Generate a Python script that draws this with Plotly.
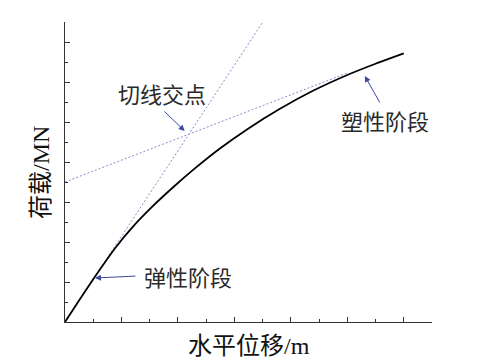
import plotly.graph_objects as go

# Load-displacement curve (units; axes unlabeled)
disp = [0, 0.5, 0.9, 1.2, 1.55, 1.9, 2.3, 2.75, 3.25, 3.8, 4.4, 5.0, 5.55, 6.0]
load = [0, 1.07, 1.87, 2.38, 2.89, 3.35, 3.84, 4.345, 4.84, 5.324, 5.786, 6.176, 6.484, 6.718]

# Elastic tangent line (through origin)
elastic_x = [0, 3.5]
elastic_y = [0, 7.49]
# Plastic tangent line
plastic_x = [0, 5.0]
plastic_y = [3.5, 6.225]

FONT = "Liberation Serif, Noto Sans CJK SC, serif"
ARROW = "#3b4a9c"
DOT = "#8a8ac8"

fig = go.Figure()
fig.add_trace(go.Scatter(x=elastic_x, y=elastic_y, mode="lines",
                         line=dict(color=DOT, width=1, dash="2px,2px"), hoverinfo="skip"))
fig.add_trace(go.Scatter(x=plastic_x, y=plastic_y, mode="lines",
                         line=dict(color=DOT, width=1, dash="2px,2px"), hoverinfo="skip"))
fig.add_trace(go.Scatter(x=disp, y=load, mode="lines", line=dict(color="black", width=1.8, shape="spline"),
                         hoverinfo="skip"))

def arrow(x, y, ax, ay):
    fig.add_annotation(x=x, y=y, ax=ax, ay=ay, xref="x", yref="y", axref="x", ayref="y",
                       showarrow=True, arrowhead=2, arrowsize=1.2, arrowwidth=1, arrowcolor=ARROW, text="")

arrow(2.12, 4.775, 1.735, 5.30)
arrow(0.531, 1.10, 1.274, 1.15)
arrow(5.31, 6.15, 5.59, 5.45)

labels = [("切线交点", 1.72, 5.675), ("弹性阶段", 2.18, 1.10), ("塑性阶段", 5.66, 5.0)]
for t, x, y in labels:
    fig.add_annotation(x=x, y=y, xref="x", yref="y", text=t, showarrow=False,
                       font=dict(family=FONT, size=22, color="#2a2a2a"))

fig.add_annotation(x=0.501, y=-0.08, xref="paper", yref="paper", text="水平位移/m", showarrow=False,
                   xanchor="center", yanchor="middle",
                   font=dict(family=FONT, size=24, color="#111"))
fig.add_annotation(x=-0.0654, y=0.5, xref="paper", yref="paper", text="荷载/MN", showarrow=False,
                   xanchor="center", yanchor="middle",
                   textangle=-90, font=dict(family=FONT, size=24, color="#111"))

axis_common = dict(showgrid=False, zeroline=False, showline=True, linecolor="#333", linewidth=1.3,
                   ticks="inside", ticklen=5, tickwidth=1.3, tickcolor="#333", showticklabels=False,
                   dtick=1, tick0=0)
fig.update_xaxes(range=[0, 6.5], minor=dict(ticks="inside", ticklen=3, dtick=0.5, tick0=0, tickcolor="#333"),
                 **axis_common)
fig.update_yaxes(range=[0, 7.5], minor=dict(ticks="inside", ticklen=3, dtick=0.5, tick0=0, tickcolor="#333"),
                 **axis_common)

fig.update_layout(width=490, height=361, margin=dict(l=65, r=58, t=22, b=39),
                  plot_bgcolor="white", paper_bgcolor="white", showlegend=False)

fig.write_html("out.html", config={"displayModeBar": False})

# remove default page margin so the figure sits at the window origin
with open("out.html", "r", encoding="utf-8") as f:
    html = f.read()
html = html.replace("<head>", "<head><style>html,body{margin:0;padding:0;overflow:hidden;}</style>", 1)
with open("out.html", "w", encoding="utf-8") as f:
    f.write(html)
